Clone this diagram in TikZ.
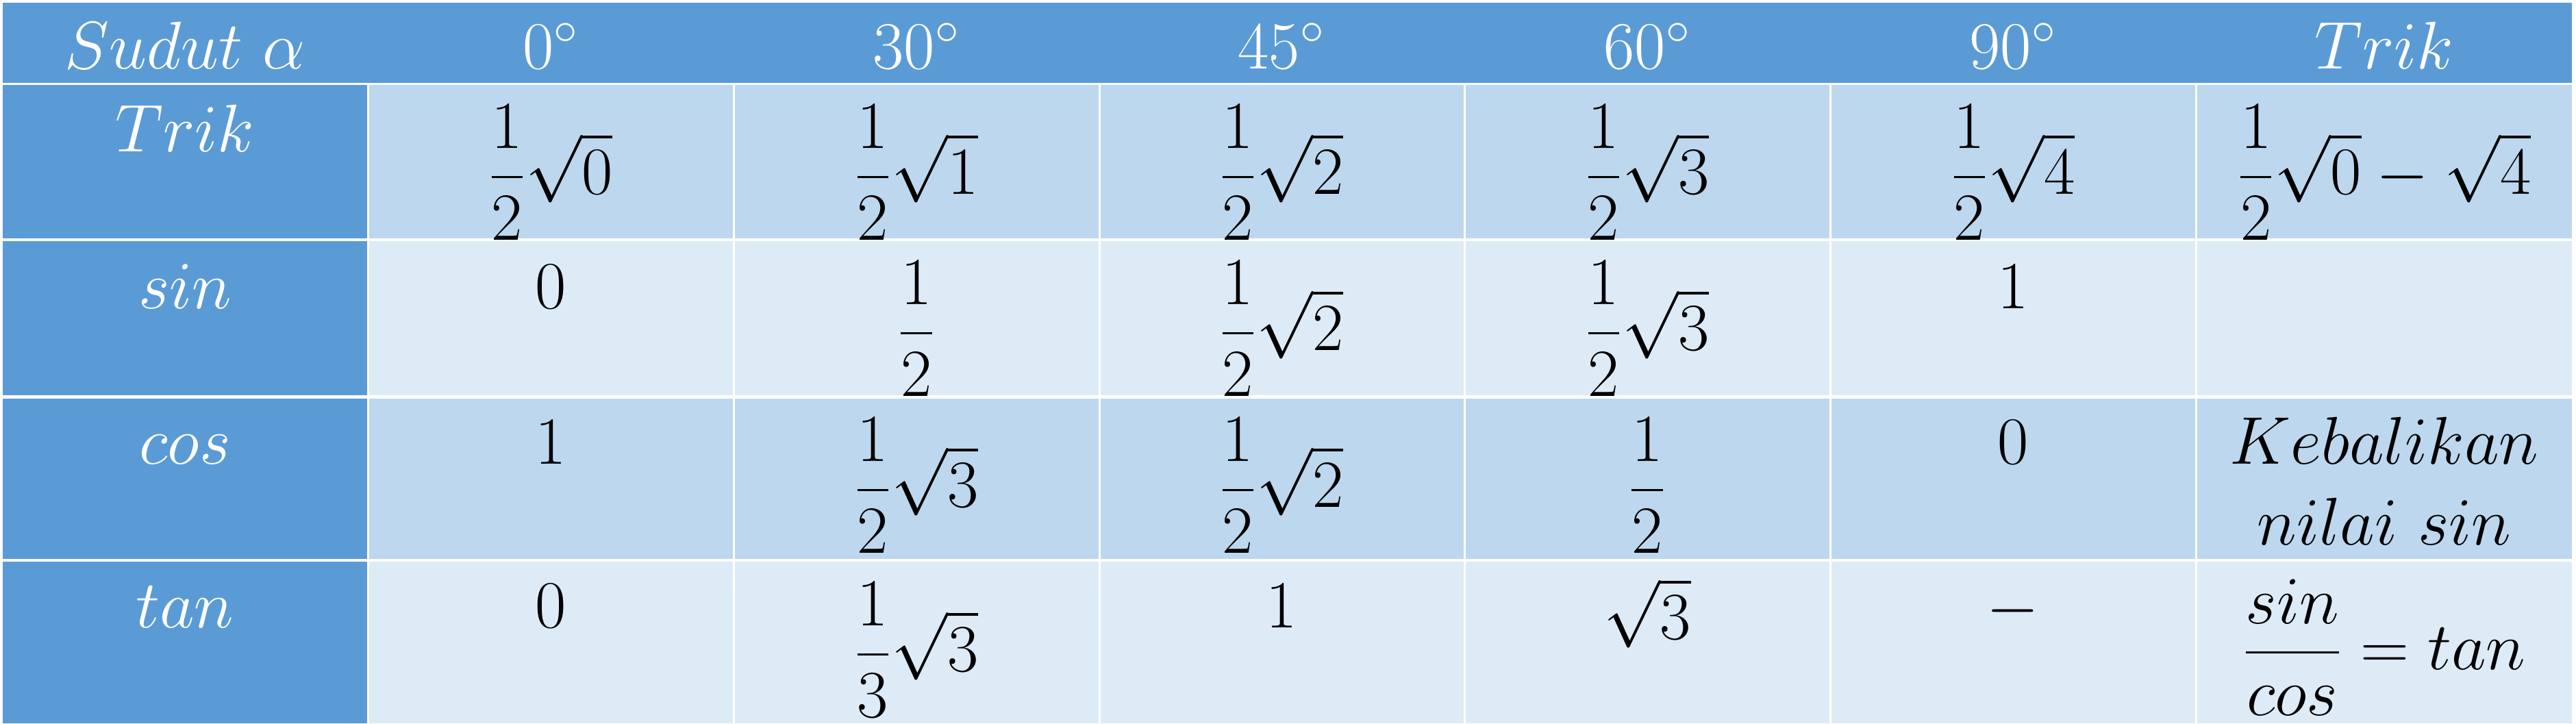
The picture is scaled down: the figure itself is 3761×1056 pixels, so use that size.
\RequirePackage{fix-cm}
\documentclass[tikz,border=0pt]{standalone}
\usepackage{amsmath}
\usetikzlibrary{positioning}
\definecolor{hdrblue}{HTML}{5B9BD5}
\definecolor{banddark}{HTML}{BDD7EE}
\definecolor{bandlight}{HTML}{DDEBF7}

\begin{document}
\begin{tikzpicture}[
        x=0.01cm, y=-0.01cm,
        cell/.style={anchor=base, inner sep=0pt, font=\fontsize{28}{34}\selectfont},
        head/.style={cell, text=white},
        gridline/.style={white, line width=0.03cm}
    ]
    \useasboundingbox (0,0) rectangle (3761,1056);
    % Table background
    \fill[white] (0,0) rectangle (3761,1056);
    \fill[hdrblue] (4,4) rectangle (3755,121);
    \foreach \ya/\yb/\band in {124/348/banddark, 352/577/bandlight, 582/816/banddark, 820/1056/bandlight} {
        \fill[hdrblue] (4,\ya) rectangle (536,\yb);
        \fill[\band] (539,\ya) rectangle (3755,\yb);
    }
    \foreach \x in {1071,1605,2138,2672,3206}
        \draw[gridline] (\x,124) -- (\x,1056);

    % Header row
    \node[head] (hsudut) at (270,100) {$Sudut\ \alpha$};
    \node[head] (h0) at (804,100) {$0^\circ$};
    \node[head] (h30) at (1338,100) {$30^\circ$};
    \node[head] (h45) at (1871,100) {$45^\circ$};
    \node[head] (h60) at (2405,100) {$60^\circ$};
    \node[head] (h90) at (2939,100) {$90^\circ$};
    \node[head] (htrik) at (3481,100) {$Trik$};

    % Trik row
    \node[head] (ltrik) at (270,221) {$Trik$};
    \node[cell] (trik0) at (804,283) {$\dfrac{1}{2}\sqrt{0}$};
    \node[cell] (trik30) at (1338,283) {$\dfrac{1}{2}\sqrt{1}$};
    \node[cell] (trik45) at (1871,283) {$\dfrac{1}{2}\sqrt{2}$};
    \node[cell] (trik60) at (2405,283) {$\dfrac{1}{2}\sqrt{3}$};
    \node[cell] (trik90) at (2939,283) {$\dfrac{1}{2}\sqrt{4}$};
    \node[cell] (triktrik) at (3481,283) {$\dfrac{1}{2}\sqrt{0}-\sqrt{4}$};

    % sin row
    \node[head] (lsin) at (270,450) {$sin$};
    \node[cell] (sin0) at (804,450) {$0$};
    \node[cell] (sin30) at (1338,511) {$\dfrac{1}{2}$};
    \node[cell] (sin45) at (1871,511) {$\dfrac{1}{2}\sqrt{2}$};
    \node[cell] (sin60) at (2405,511) {$\dfrac{1}{2}\sqrt{3}$};
    \node[cell] (sin90) at (2939,450) {$1$};

    % cos row
    \node[head] (lcos) at (270,677) {$cos$};
    \node[cell] (cos0) at (804,677) {$1$};
    \node[cell] (cos30) at (1338,740) {$\dfrac{1}{2}\sqrt{3}$};
    \node[cell] (cos45) at (1871,740) {$\dfrac{1}{2}\sqrt{2}$};
    \node[cell] (cos60) at (2405,740) {$\dfrac{1}{2}$};
    \node[cell] (cos90) at (2939,677) {$0$};
    \node[cell] (kebal) at (3481,677) {$Kebalikan$};
    \node[cell] (nilai) at (3481,795) {$nilai\ sin$};

    % tan row
    \node[head] (ltan) at (270,916) {$tan$};
    \node[cell] (tan0) at (804,916) {$0$};
    \node[cell] (tan30) at (1338,980) {$\dfrac{1}{3}\sqrt{3}$};
    \node[cell] (tan45) at (1871,916) {$1$};
    \node[cell] (tan60) at (2405,933) {$\sqrt{3}$};
    \node[cell] (tan90) at (2939,916) {$-$};
    \node[cell] (tantrik) at (3481,977) {$\dfrac{sin}{cos}=tan$};
\end{tikzpicture}
\end{document}
